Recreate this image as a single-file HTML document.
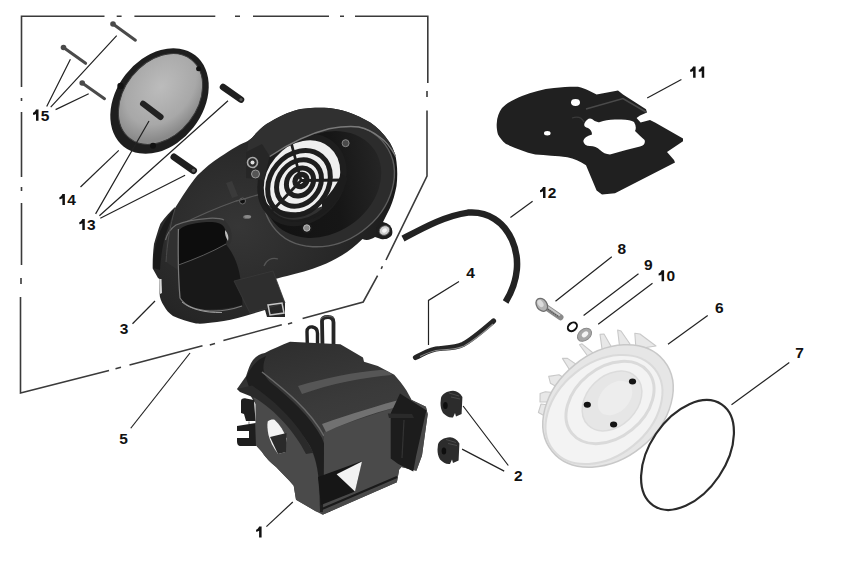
<!DOCTYPE html>
<html><head><meta charset="utf-8">
<style>
html,body{margin:0;padding:0;background:#fff;width:863px;height:584px;overflow:hidden}
svg{display:block}
text{font-family:"Liberation Sans",sans-serif;font-weight:bold;font-size:15.5px;fill:#111}
</style></head><body>
<svg width="863" height="584" viewBox="0 0 863 584">
<defs>
<radialGradient id="gHousing" cx="0.55" cy="0.35" r="0.7">
<stop offset="0" stop-color="#3a3a3a"/><stop offset="0.6" stop-color="#222"/><stop offset="1" stop-color="#151515"/>
</radialGradient>
<linearGradient id="gShroud" x1="0" y1="0" x2="1" y2="1">
<stop offset="0" stop-color="#2a2a2a"/><stop offset="0.45" stop-color="#4a4a4a"/><stop offset="1" stop-color="#2c2c2c"/>
</linearGradient>
<radialGradient id="gMesh" cx="0.6" cy="0.4" r="0.6">
<stop offset="0" stop-color="#bcbcbc"/><stop offset="0.7" stop-color="#a8a8a8"/><stop offset="1" stop-color="#8a8a8a"/>
</radialGradient>
<radialGradient id="gFan" cx="0.5" cy="0.5" r="0.6">
<stop offset="0" stop-color="#f4f4f4"/><stop offset="1" stop-color="#e2e2e2"/>
</radialGradient>
</defs>
<rect width="863" height="584" fill="#fff"/>

<!-- FRAME -->
<g fill="none" stroke="#3a3a3a" stroke-width="1.6">
<path d="M20.7,16.2 H104.5 M116.7,16.2 H121.6 M134.4,16.2 H215.3 M235,16.2 H240 M253,16.2 H329 M340,16.2 H344 M355,16.2 H427.8 V83 M427,91 V97 M427,110.4 V176 L386,260 M382.4,266.2 L381.2,268.9 M377.6,275.6 L363.2,302 L302.6,318.6 M292.2,322.8 L288,323.9 M281.8,324.8 L223.4,340.5 M215,343.6 L209.8,345 M202.5,345.7 L129.5,365 M121,367.3 L115.5,368.8 M109,370.5 L20.5,393 V297 M21,284 V278 M21.5,265 V203 M21.5,191 V187 M21.5,177 V112 M21.5,101 V98 M21.5,87 V16.2"/>
</g>

<!-- ===== PART 15 screws ===== -->
<g stroke-linecap="round">
<line x1="113" y1="24" x2="135.4" y2="40.2" stroke="#4a4a4a" stroke-width="3"/>
<circle cx="113" cy="24" r="2.8" fill="#4a4a4a"/>
<line x1="63.5" y1="47.5" x2="85.6" y2="63.3" stroke="#4a4a4a" stroke-width="3"/>
<circle cx="63.5" cy="47.5" r="2.8" fill="#4a4a4a"/>
<line x1="82.2" y1="83" x2="104.5" y2="98.7" stroke="#4a4a4a" stroke-width="3"/>
<circle cx="82.2" cy="83" r="2.8" fill="#4a4a4a"/>
</g>

<!-- ===== PART 14 cover ===== -->
<g>
<ellipse cx="159.5" cy="101" rx="58" ry="43" transform="rotate(-52 159.5 101)" fill="#1e1e1e"/>
<ellipse cx="160.5" cy="99" rx="50" ry="36.5" transform="rotate(-52 160.5 99)" fill="url(#gMesh)" stroke="#3a3a3a" stroke-width="1"/>
<circle cx="120.5" cy="86" r="3.2" fill="#111"/>
<circle cx="198.6" cy="68.7" r="2.5" fill="#111"/>
<circle cx="153" cy="145.7" r="3" fill="#111"/>
<line x1="143" y1="103.7" x2="160.6" y2="117" stroke="#222" stroke-width="6" stroke-linecap="round"/>
</g>

<!-- ===== PART 13 pins ===== -->
<g stroke-linecap="round">
<line x1="223" y1="87" x2="241" y2="99.6" stroke="#1e1e1e" stroke-width="6.5"/>
<circle cx="241" cy="99.6" r="1.6" fill="#555"/>
<line x1="174" y1="157" x2="193.5" y2="170.6" stroke="#1e1e1e" stroke-width="7"/>
<circle cx="193.5" cy="170.6" r="1.8" fill="#555"/>
</g>

<!-- ===== PART 3 housing ===== -->
<g>
<defs>
<radialGradient id="gBody" cx="0.35" cy="0.55" r="0.65">
<stop offset="0" stop-color="#363636"/><stop offset="0.7" stop-color="#262626"/><stop offset="1" stop-color="#1a1a1a"/>
</radialGradient>
<linearGradient id="gCav" x1="0" y1="0.3" x2="1" y2="0.7">
<stop offset="0" stop-color="#121212"/><stop offset="0.6" stop-color="#161616"/><stop offset="1" stop-color="#262626"/>
</linearGradient>
</defs>
<!-- silhouette -->
<path fill="url(#gBody)" d="M174.7,208.5 C182,197 190,184 197.3,175.5 C205,168 212,162 220,157 C226,153 231,149.5 236.3,146.7 C241,144 245,142.5 248.6,140.5 C252,138 254.5,135 257,132.3 C261,128 265,124.5 270,122 C283,114 292,111 301,109 C312,107.5 320,107.5 329,108 C338,109 346,111 353,114 C362,118 369,121 375,126 C382,132 386,137 390,143 C394,150 396,156 396.5,162 C397.5,170 397.5,178 396.5,186 C395,194 393,201 390,208 L383,222 L386,223 C389,225 391,227 392,229.5 C393,233 392,236 390,237 C387,239 384,239.5 381,239 L375,237 C371,239.5 367,241 362.5,239 C355,246 349,251 342,255.3 C335,259.5 328,263 321.4,265.6 C310,270 298,273.5 287,276 C281,277.5 275,279 270,280 L273.4,276 L285,303 L285,317 L267,317 L265,310 L245,316 C235,319 226,321 217,322 C209,323 203,324 196,323.5 C188,322 180,319 173,316 C169,313 166,310 164,306 C161,301 159.5,297 159.6,293 L159.6,279 L158,278 L152.7,268.6 C152.5,260 153,252 154,244 C156,237 158,230 160.4,223.7 C165,217 170,212 175,207 Z"/>
<!-- flap darker strip -->
<path fill="#1a1a1a" d="M175,208 C166,218 158,232 155,248 C153,258 153,264 153.5,268 L160,270 C161,255 163,240 168,228 Z"/>
<!-- rim cavity -->
<ellipse cx="329" cy="185.5" rx="69.5" ry="56.5" transform="rotate(-36 329 185.5)" fill="#2c2c2c" stroke="#5e5e5e" stroke-width="1.4"/>
<ellipse cx="323" cy="184.5" rx="62" ry="49" transform="rotate(-34 323 184.5)" fill="url(#gCav)"/>
<!-- grille opening -->
<ellipse cx="302" cy="180" rx="46" ry="38" transform="rotate(-50 302 180)" fill="#efefef"/>
<g fill="none" stroke="#1e1e1e">
<ellipse cx="302" cy="180" rx="46" ry="38" transform="rotate(-50 302 180)" stroke-width="6.5"/>
<ellipse cx="299" cy="183" rx="35" ry="28.5" transform="rotate(-50 299 183)" stroke-width="5"/>
<ellipse cx="299" cy="183" rx="25" ry="20.5" transform="rotate(-50 299 183)" stroke-width="5"/>
<ellipse cx="300" cy="182" rx="15" ry="12.5" transform="rotate(-50 300 182)" stroke-width="5"/>
<ellipse cx="301" cy="180.5" rx="6.5" ry="5.5" transform="rotate(-50 301 180.5)" stroke-width="5.5"/>
</g>
<path fill="none" stroke="#1e1e1e" stroke-width="2.8" d="M301,180.5 L291,142 M301,180.5 L346,180 M301,180.5 L270,213"/>
<path fill="#1c1c1c" opacity="0.9" d="M262,200 C268,212 280,222 296,222 C314,221 330,212 340,196 C330,204 316,210 300,212 C284,213 270,208 262,200 Z"/>
<path fill="#1c1c1c" d="M322,202 C330,194 337,185 341,174 L348,178 C343,193 334,205 322,214 Z"/>
<!-- upper rim ridge / boss block -->
<path fill="#303030" d="M248.6,140.5 C252,138 254.5,135 257,132.3 C261,128 265,124.5 270,122 C283,114 292,111 301,109 C312,107.5 320,107.5 329,108 C338,109 346,111 353,114 C362,118 369,121 375,126 C382,132 386,137 390,143 C392,147 394,151 395.8,156 C391,147 387,141 381,137.6 C374,132 366,128 358.7,126.5 C350,125.5 340,126.5 329,128.4 C312,133 290,143 269.7,156 L262,161 L246,160 Z"/>
<path fill="#262626" d="M246,152 L262,144 L269.7,156 L264,180 L246,178 Z"/>
<path fill="none" stroke="#7a7a7a" stroke-width="1.5" d="M269.7,156.5 C290,143 312,133 329,128.8 C340,126.8 350,126 358.7,127 C366,128.5 374,132.5 381,138 C387,142 391,148 395.5,156"/>
<!-- bosses -->
<circle cx="252.5" cy="162.5" r="5" fill="#2a2a2a" stroke="#a8a8a8" stroke-width="1.6"/>
<circle cx="252.5" cy="162.5" r="2" fill="#e0e0e0"/>
<circle cx="255.5" cy="174" r="4" fill="#555" stroke="#999" stroke-width="1"/>
<circle cx="345.6" cy="143.2" r="3.5" fill="#4a4a4a" stroke="#888" stroke-width="1"/>
<circle cx="306.8" cy="228" r="5.5" fill="#1a1a1a"/><circle cx="306.8" cy="228" r="3.2" fill="#8a8a8a" stroke="#bbb" stroke-width="1"/>
<circle cx="384" cy="231" r="8" fill="#1e1e1e"/>
<ellipse cx="384.5" cy="230.5" rx="5.4" ry="4.6" transform="rotate(-30 384.5 230.5)" fill="#cfcfcf" stroke="#555" stroke-width="0.8"/>
<ellipse cx="384.5" cy="230.5" rx="2.6" ry="2" transform="rotate(-30 384.5 230.5)" fill="#f6f6f6"/>
<circle cx="242.5" cy="201" r="3" fill="#111" stroke="#666" stroke-width="1"/>
<path fill="none" stroke="#5a5a5a" stroke-width="1.3" d="M180,225 C200,215 222,206 236,201 C244,199 250,197 258,194.8"/>
<path fill="#3a3a3a" d="M226,183 L232,181 L238,196 L232,198 Z"/>
<ellipse cx="247" cy="217" rx="4" ry="2" fill="#8a8a8a" opacity="0.6"/>
<!-- intake cavity -->
<path fill="#303030" d="M165.5,239 C167,234 169,231 172,228 C176,224 180,223 186,221.5 C195,219 202,218.5 209,218 C215,218 220,218.2 223,219 C226,222 229,225 230.5,229 C232,234 232,238 231,242 C224,252 205,260 190,266 L178,270 L166,262 Z"/>
<path fill="none" stroke="#6a6a6a" stroke-width="1.2" d="M165.5,240 C167,234 170,229 176,225 C185,221 198,219 209,218.3 C216,218 221,218.5 224,220"/>
<path fill="#0d0d0d" d="M178.4,232 C180,228 184,226 190,224.5 C198,222.5 205,222 212,222 C218,222.5 222,224 224,227 C226,231 227.5,235 227.2,238 C226.5,241 226,243 225.9,244.2 C215,250 200,257 190,261 C185,263 181,264 178.4,264.7 Z"/>
<path fill="#f4f4f4" opacity="0.75" d="M225,230 C228,233 229,237 228,241 C226,238 224.5,234 225,230 Z"/>
<ellipse cx="247.7" cy="216.5" rx="3.5" ry="1.6" fill="#9a9a9a" opacity="0.7"/>
<!-- lower cavity -->
<path fill="#181818" d="M178.4,264.7 C190,261 205,255 225.9,244.2 C234,254 240,268 241,285 L242.6,305 C230,308.5 215,310 202,309.5 C192,309 185,306 181,300 Z"/>
<path fill="none" stroke="#7a7a7a" stroke-width="1.2" d="M178.4,229 C178,250 178.4,280 180,298 C185,306 195,310 210,311 C222,311.5 232,309.5 242,306"/>
<path fill="none" stroke="#5a5a5a" stroke-width="1" d="M178.5,265 C195,259 212,252 226,244"/>
<path fill="none" stroke="#aaa" stroke-width="0.9" d="M182,302 C190,309 205,313 222,312.5"/>
<path fill="none" stroke="#555" stroke-width="1.2" d="M264,266 C266,260 272,257 278,259"/>
<!-- flap edge / notch highlight -->
<path fill="none" stroke="#4a4a4a" stroke-width="1" d="M175,209 C170,225 167,245 166,262"/>
<path fill="#d8d8d8" d="M159.5,279 L161.5,279 L162,293 L160,294 Z"/>
<!-- tab -->
<path fill="#2e2e2e" stroke="#3a3a3a" stroke-width="0.8" d="M234,281 L273,271 L285,303 L250,313 Z"/>
<path fill="none" stroke="#c8c8c8" stroke-width="1.5" d="M268,305 L282,303 L284,313 L270,315 Z"/>
</g>

<!-- ===== PART 1 shroud ===== -->
<g>
<defs>
<linearGradient id="gTop" x1="0" y1="0" x2="0.3" y2="1">
<stop offset="0" stop-color="#2c2c2c"/><stop offset="0.45" stop-color="#3a3a3a"/><stop offset="1" stop-color="#444"/>
</linearGradient>
</defs>
<!-- clips -->
<path fill="none" stroke="#222" stroke-width="3.4" stroke-linejoin="round" d="M307.5,353 L307,331.5 C307,328 309.5,326.5 312.5,327 C315.5,327.5 317.5,330 317.5,333.5 L317.5,352"/>
<path fill="none" stroke="#262626" stroke-width="3.8" stroke-linejoin="round" d="M322.5,347 L322,321 C322,318 324.5,317 328,317 C331.5,317 333.5,319 333.5,322.5 L333.5,347"/>
<path fill="none" stroke="#666" stroke-width="0.9" d="M321,319 C323,316 330,315 334,318"/>
<!-- silhouette -->
<path fill="url(#gTop)" d="M237,389 L246,376.3 C248,370 250,364 253,360 C256,356 260,354 264.8,353 C272,349 282,345 290,341.7 L340.4,344.3 L363,357.4 L364,361.7 L377.8,366 L394.3,374.7 C399,380 403,385 406.5,390.4 L411.7,400 L425.9,406.7 L427.7,414.2 L422,455.6 L416.4,470.7 L401.4,467 L399.2,469.5 L396.9,482.3 L322.7,514.7 L315.7,511.2 L296,499.7 L293.7,485.7 C288,479 282,473 276.3,467.2 C270,462 266,458 262,452 L255.7,445 L255.7,404 L250,395 Z"/>
<!-- left face lighter -->
<path fill="#4a4a4a" d="M252,392 C268,402 285,416 300,432 C310,444 316,458 318,475 L320,512 L315.7,511.2 L296,499.7 L293.7,485.7 C288,479 282,473 276.3,467.2 C270,462 266,458 262,452 L255.7,445 L255.7,404 Z"/>
<!-- rounded ridge dark -->
<path fill="#1e1e1e" d="M246,378 C250,368 256,360 266,356 C262,366 262,374 270,382 C290,398 310,416 322,438 C328,452 330,470 330,512 L320,512 C320,480 318,462 310,446 C298,426 278,410 258,394 L250,390 Z"/>
<path fill="none" stroke="#6a6a6a" stroke-width="1.5" d="M262,372 C285,390 310,410 324,436"/>
<!-- lip flange -->
<path fill="#2a2a2a" d="M237,389 L252,385.6 C275,400 300,425 313.4,452.8 L306,454 C295,432 275,410 255,398 L240,392 Z"/>
<!-- front face -->
<path fill="#4a4a4a" d="M324,432 C350,422 380,412 408,404 L411.7,400 L425.9,406.7 L427.7,414.2 L422,455.6 L416.4,470.7 L401.4,467 L399.2,469.5 L396.9,482.3 L322.7,514.7 C324,490 324,460 324,432 Z"/>
<!-- top highlights -->
<path fill="#5c5c5c" opacity="0.85" d="M298,386 C325,378 355,372 380,370 C386,370 390,372 392,375 C365,377 330,384 302,394 Z"/>
<path fill="#7a7a7a" opacity="0.85" d="M322,424 C350,414 380,405 406,398 L410,404 C382,410 352,420 326,432 Z"/>
<!-- side hole -->
<path fill="#f2f2f2" d="M267.7,421.4 C270,419.5 273,419 274.5,419.7 C280,425 284,431 286.5,438.5 L284.8,452.2 L278,454 C273,447 270,441 268.5,435 C267.5,430 267,425 267.7,421.4 Z"/>
<path fill="#2a2a2a" d="M270,437 L286.5,433 L286,452 L278,454 Z"/>
<!-- left clips -->
<path fill="#1e1e1e" d="M241,401 C241,399 243,398 246,398.5 L254,400 L255.5,421 L246,421 L244,414 L241,413 Z"/>
<path fill="#1e1e1e" d="M237,426 L255.7,423 L256,446 L241,446 C238,446 237,444 237,441 L237,438 L249,438 L249,431 L237,431 Z"/>
<path fill="#bbb" d="M248,421.5 L250,421.5 L250,424 L248,424 Z"/>
<!-- bottom opening -->
<path fill="#161616" d="M318,477 L362,461 L355,491.5 L321,505 Z"/>
<path fill="#f2f2f2" d="M336.6,474.2 L362,461.4 L355,491.5 Z"/>
<path fill="none" stroke="#1a1a1a" stroke-width="2" d="M322,509 L397,477"/>
<!-- right tab darker -->
<path fill="#1c1c1c" d="M400,393.5 L426.5,410.5 L425.5,414 L416,456.6 L413.3,471.6 L398.2,464 L390.7,458.4 L390.7,413.3 Z"/>
<path fill="#2a2a2a" d="M387.9,413.5 L412,414 L414,418 L389,418 Z"/>
<path fill="none" stroke="#333" stroke-width="1.2" d="M404,420 L402,458"/>
</g>

<!-- ===== PART 11 gasket ===== -->
<path fill="#202020" fill-rule="evenodd" d="M496.7,124 C497,117 499,112 502,108 C508,102 515,99 522,96 C532,92 543,89 554,88 C563,87 571,86.5 578,86.7 C582,87.5 586,89 588.6,90.6 L596.6,94.6 L618,90.6 L623,94.6 L646,109.3 L647,112.5 L640,115.5 L636.6,118 L640.6,122.6 L650,120 L655,122.6 L683,138.6 L683,141.3 L667,152 L674,160 L675,162.6 L615,193.3 L602,194.6 L596.6,190.6 L586,165.3 C580,161 574,159 567.3,157.3 C556,156 546,155.5 535.3,154.6 C525,152 515,148 506,144 C502,141 500,138 498,134.6 C497,131 496.5,127 496.7,124 Z
M571,102.6 A4.5,3.5 0 1 0 580,102.6 A4.5,3.5 0 1 0 571,102.6 Z
M544,133.3 A3.3,2.2 0 1 0 550.6,133.3 A3.3,2.2 0 1 0 544,133.3 Z
M584.6,123 Q588,117 592,119 Q596,123 600,122 Q607,119 618,119.5 Q630,119 634,122 Q637,127 635,131 Q640,136 644.6,140 Q646,145 640,146.5 Q625,150 610,154.6 Q604,154 600,150 Q596,146 590,146 Q584,146 583.3,141 Q584,137 592,134.6 Q592,130 588,128 Q583,127 584.6,123 Z"/>
<path fill="none" stroke="#4a4a4a" stroke-width="1.6" d="M586,109 L623,98.6 L646,112"/>
<path fill="none" stroke="#3a3a3a" stroke-width="1.2" d="M572,118 C578,116 582,118 584,122"/>

<!-- ===== PART 12 hose ===== -->
<path fill="none" stroke="#222" stroke-width="6.5" d="M403,238.6 C425,227 445,216 468,212.6 C488,211 504,222 512,240 C520,258 519,280 505.6,302"/>
<!-- ===== PART 4 hose ===== -->
<path fill="none" stroke="#252525" stroke-width="5.2" stroke-linecap="round" d="M415.5,357.5 C424,353.5 430,349 439.8,348.5 C446,348 456,348 463,344.4 C472,339.5 483,330 493.5,321"/>
<path fill="none" stroke="#8a8a8a" stroke-width="1.2" d="M420,356.5 C426,353.5 432,350.5 440,350 C447,349.5 456,349.5 464,346 C473,341 483,333 493,324"/>

<!-- ===== PART 8 bolt ===== -->
<g>
<line x1="542" y1="304.5" x2="560.5" y2="317.3" stroke="#8a8a8a" stroke-width="6" stroke-linecap="round"/>
<line x1="543" y1="303.5" x2="560" y2="315.5" stroke="#c8c8c8" stroke-width="2"/>
<line x1="546" y1="308" x2="559" y2="317" stroke="#555" stroke-width="1.3" stroke-dasharray="1.2 1"/>
<ellipse cx="541.8" cy="304.8" rx="5.2" ry="7" transform="rotate(-35 541.8 304.8)" fill="#b4b4b4" stroke="#6e6e6e" stroke-width="1.3"/>
<ellipse cx="540.5" cy="303.5" rx="2.5" ry="4" transform="rotate(-35 540.5 303.5)" fill="#dcdcdc"/>
</g>
<!-- ===== PART 9 o-ring ===== -->
<ellipse cx="572.4" cy="326.8" rx="5" ry="3.8" transform="rotate(-40 572.4 326.8)" fill="none" stroke="#111" stroke-width="2"/>
<!-- ===== PART 10 washer ===== -->
<ellipse cx="584.5" cy="334.8" rx="7.8" ry="5.6" transform="rotate(-38 584.5 334.8)" fill="#a8a8a8" stroke="#8a8a8a" stroke-width="1"/>
<ellipse cx="585" cy="334.3" rx="3.6" ry="2.4" transform="rotate(-38 585 334.3)" fill="#f4f4f4"/>

<!-- ===== PART 6 fan ===== -->
<g>
<g fill="#e8e8e8" stroke="#c9c9c9" stroke-width="1.1" stroke-linejoin="round">
<path d="M538.4,412.4 L541,404 L556,406 L552,420 Z"/>
<path d="M540.1,393.5 L545.3,391.8 L556,392.7 L562,402 L540,402 Z"/>
<path d="M548.7,376.4 L559,374.7 L571,382 L566,392 L550.4,383.2 Z"/>
<path d="M562.4,358.4 L567.5,358.4 L583,369 L576,380 Z"/>
<path d="M579.5,344.7 L582,343.8 L598,357 L592,362 Z"/>
<path d="M600,334.4 L604,334 L612,348 L603,356 Z"/>
<path d="M617.6,330 L621,331 L630,344 L620,350 Z"/>
<path d="M634.8,333.3 L640,334 L656,346 L636,349 Z"/>
</g>
<ellipse cx="608" cy="406" rx="72" ry="53" transform="rotate(-39 608 406)" fill="#e6e6e6" stroke="#c8c8c8" stroke-width="1.5"/>
<ellipse cx="604" cy="409.5" rx="65" ry="46.5" transform="rotate(-39 604 409.5)" fill="#f3f3f3" stroke="#dadada" stroke-width="2"/>
<ellipse cx="610" cy="402.5" rx="49" ry="35" transform="rotate(-39 610 402.5)" fill="none" stroke="#dadada" stroke-width="3"/>
<ellipse cx="612" cy="401" rx="34" ry="25" transform="rotate(-45 612 401)" fill="#e6e6e6" stroke="#dcdcdc" stroke-width="1.5"/>
<ellipse cx="615" cy="398" rx="20" ry="14" transform="rotate(-45 615 398)" fill="#ededed"/>
<ellipse cx="632.5" cy="381.5" rx="3.6" ry="3" fill="#141414"/>
<ellipse cx="587.3" cy="404.8" rx="3.6" ry="3" fill="#141414"/>
<ellipse cx="613.6" cy="424.4" rx="3.6" ry="3" fill="#141414"/>

</g>

<!-- ===== PART 7 ring ===== -->
<ellipse cx="687.5" cy="455" rx="38" ry="61" transform="rotate(34 687.5 455)" fill="none" stroke="#2a2a2a" stroke-width="2.2"/>

<!-- ===== PART 2 grommets ===== -->
<g>
<path fill="#2c2c2c" d="M441,398 C442,394 447,391 453,390.8 C457,391 460,393 462.4,397 L461.6,414 L456,416.5 L455,413 L453,417.5 C449,418 446,416 443,413 C441,410 440.5,406 440.5,403 Z"/>
<path fill="none" stroke="#4a4a4a" stroke-width="1" d="M449,393 L459,396 M451,397 L460,399"/>
<ellipse cx="445.4" cy="405.4" rx="2.3" ry="3.5" fill="#0e0e0e"/>
<path fill="#2c2c2c" d="M438,444.5 C439,440.5 444,437.5 450,437.3 C454,437.5 457,439.5 459.4,443.5 L458.6,460.5 L453,463 L452,459.5 L450,464 C446,464.5 443,462.5 440,459.5 C438,456.5 437.5,452.5 437.5,449.5 Z"/>
<path fill="none" stroke="#4a4a4a" stroke-width="1" d="M446,439.5 L456,442.5 M448,443.5 L457,445.5"/>
<ellipse cx="443.9" cy="450.9" rx="2.3" ry="3.5" fill="#0e0e0e"/>
</g>
<!-- LEADER LINES -->
<g fill="none" stroke="#222" stroke-width="1.2">
<path d="M46.7,106.6 L70.4,59.3 M50.7,107.2 L116.7,35.7 M55.6,109.6 L88.7,93.8"/>
<path d="M80.5,187 L118.8,150.4"/>
<path d="M95.6,213.9 L149,121 M99.4,215.8 L228,100.8 M100.3,218.2 L185.1,175.2"/>
<path d="M132.5,323.75 L155,301"/>
<path d="M130.75,428.25 L190,353"/>
<path d="M266.4,526.6 L292.8,502"/>
<path d="M647.2,98 L681.4,79.5"/>
<path d="M510.4,217.4 L532.6,201.2"/>
<path d="M428.5,345 V300.4 L459,281.6"/>
<path d="M555.5,301.3 L611.8,256.7 M583.6,315.5 L638.5,273.8 M598.2,324.3 L652.5,283.2"/>
<path d="M668,344.3 L707.7,315.6"/>
<path d="M731.5,404.8 L789.3,362.5"/>
<path d="M463.1,406 L508.3,465.5 M462.1,449.1 L504.2,471.1"/>
</g>

<!-- LABELS -->
<g fill="#111">
<path d="M36.00,109.60 H38.50 V120.70 H36.00 V113.90 C35.10,114.50 34.00,114.70 33.00,114.80 V112.80 C34.40,112.30 35.50,111.20 36.00,109.60 Z"/>
<text x="40.82" y="120.70">5</text>
<path d="M62.40,194.00 H64.90 V205.10 H62.40 V198.30 C61.50,198.90 60.40,199.10 59.40,199.20 V197.20 C60.80,196.70 61.90,195.60 62.40,194.00 Z"/>
<text x="67.22" y="205.10">4</text>
<path d="M82.30,219.00 H84.80 V230.10 H82.30 V223.30 C81.40,223.90 80.30,224.10 79.30,224.20 V222.20 C80.70,221.70 81.80,220.60 82.30,219.00 Z"/>
<text x="87.12" y="230.10">3</text>
<text x="119.70" y="333.50">3</text>
<text x="119.20" y="443.50">5</text>
<path d="M259.10,526.50 H261.60 V537.60 H259.10 V530.80 C258.20,531.40 257.10,531.60 256.10,531.70 V529.70 C257.50,529.20 258.60,528.10 259.10,526.50 Z"/>
<path d="M693.10,66.60 H695.60 V77.70 H693.10 V70.90 C692.20,71.50 691.10,71.70 690.10,71.80 V69.80 C691.50,69.30 692.60,68.20 693.10,66.60 Z"/>
<path d="M701.72,66.60 H704.22 V77.70 H701.72 V70.90 C700.82,71.50 699.72,71.70 698.72,71.80 V69.80 C700.12,69.30 701.22,68.20 701.72,66.60 Z"/>
<path d="M543.00,187.00 H545.50 V198.10 H543.00 V191.30 C542.10,191.90 541.00,192.10 540.00,192.20 V190.20 C541.40,189.70 542.50,188.60 543.00,187.00 Z"/>
<text x="547.82" y="198.10">2</text>
<text x="466.20" y="278.10">4</text>
<text x="617.60" y="253.70">8</text>
<text x="644.10" y="269.50">9</text>
<path d="M661.60,270.20 H664.10 V281.30 H661.60 V274.50 C660.70,275.10 659.60,275.30 658.60,275.40 V273.40 C660.00,272.90 661.10,271.80 661.60,270.20 Z"/>
<text x="666.42" y="281.30">0</text>
<text x="715.10" y="312.70">6</text>
<text x="795.20" y="358.10">7</text>
<text x="514.00" y="480.60">2</text>
</g>
<!-- PARTS placeholder -->

</svg>
</body></html>
